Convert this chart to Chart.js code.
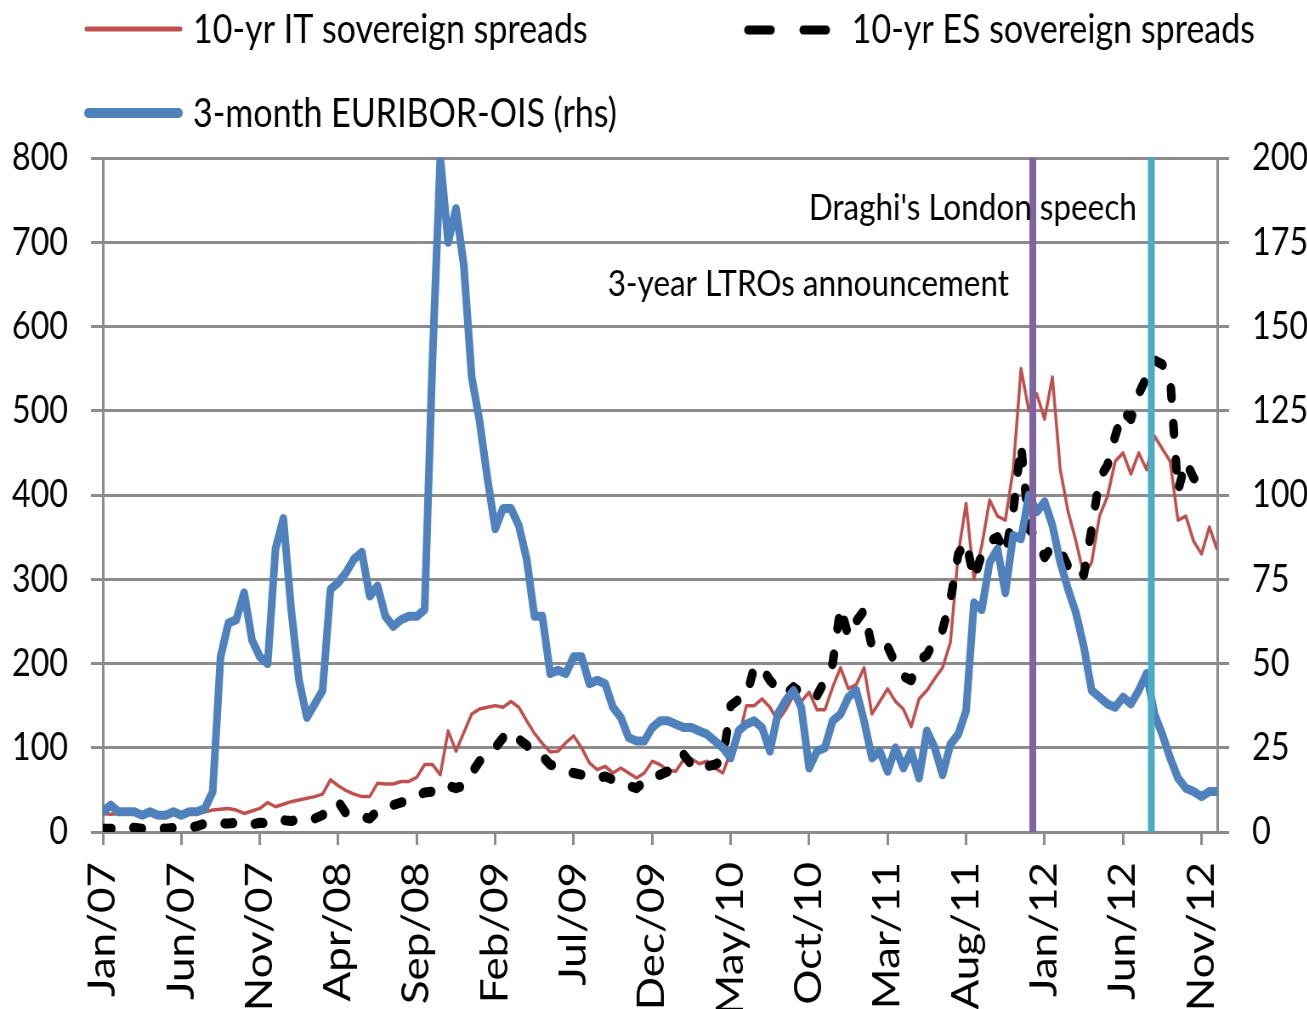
<!DOCTYPE html>
<html>
<head>
<meta charset="utf-8">
<title>Sovereign spreads and EURIBOR-OIS</title>
<script src="https://cdn.jsdelivr.net/npm/chart.js@4.4.1/dist/chart.umd.min.js"></script>
<style>
  html, body { margin: 0; padding: 0; background: #ffffff; overflow: hidden; }
  /* the chart is laid out on a wider canvas and compressed horizontally */
  #wrap { width: 1538px; height: 1009px; transform: scaleX(0.85); transform-origin: 0 0; }
  canvas { display: block; }
</style>
</head>
<body>
<div id="wrap"><canvas id="chart" width="1538" height="1009"></canvas></div>
<script>
// Observation dates: months since January 2007, twice a month
const obsMonth = [
  0, 0.5, 1, 1.5, 2, 2.5, 3, 3.5, 4, 4.5, 5, 5.5, 6, 6.5, 7, 7.5, 8, 8.5, 9, 9.5,
  10, 10.5, 11, 11.5, 12, 12.5, 13, 13.5, 14, 14.5, 15, 15.5, 16, 16.5, 17, 17.5, 18, 18.5, 19, 19.5,
  20, 20.5, 21, 21.5, 22, 22.5, 23, 23.5, 24, 24.5, 25, 25.5, 26, 26.5, 27, 27.5, 28, 28.5, 29, 29.5,
  30, 30.5, 31, 31.5, 32, 32.5, 33, 33.5, 34, 34.5, 35, 35.5, 36, 36.5, 37, 37.5, 38, 38.5, 39, 39.5,
  40, 40.5, 41, 41.5, 42, 42.5, 43, 43.5, 44, 44.5, 45, 45.5, 46, 46.5, 47, 47.5, 48, 48.5, 49, 49.5,
  50, 50.5, 51, 51.5, 52, 52.5, 53, 53.5, 54, 54.5, 55, 55.5, 56, 56.5, 57, 57.5, 58, 58.5, 59, 59.5,
  60, 60.5, 61, 61.5, 62, 62.5, 63, 63.5, 64, 64.5, 65, 65.5, 66, 66.5, 67, 67.5, 68, 68.5, 69, 69.5,
  70, 70.5, 71
];

// 10-yr Italian sovereign spread (bp, left axis)
const itSpread = [
  22, 21, 22, 21, 22, 20, 21, 20, 21, 22, 21, 22, 22, 24, 26, 27, 28, 26, 22, 25,
  28, 35, 30, 33, 36, 38, 40, 42, 45, 62, 55, 49, 45, 42, 42, 58, 57, 57, 60, 60,
  65, 80, 80, 68, 120, 96, 118, 140, 146, 148, 150, 148, 155, 148, 132, 117, 105, 95, 96, 106,
  114, 100, 82, 74, 78, 70, 76, 70, 64, 70, 84, 80, 73, 72, 86, 87, 81, 84, 76, 70,
  95, 110, 150, 150, 158, 148, 132, 145, 162, 155, 166, 145, 145, 172, 195, 170, 175, 195, 140, 155,
  170, 155, 146, 125, 158, 168, 182, 195, 225, 330, 390, 300, 340, 394, 375, 370, 430, 550, 500, 520,
  490, 540, 430, 380, 345, 305, 320, 375, 398, 440, 450, 425, 450, 430, 470, 455, 440, 370, 375, 345,
  330, 362, 335
];

// 10-yr Spanish sovereign spread (bp, left axis)
const esSpread = [
  4, 4, 4, 5, 5, 4, 4, 5, 4, 5, 5, 5, 7, 10, 11, 10, 10, 11, 8, 9,
  11, 10, 14, 14, 13, 15, 17, 16, 20, 30, 36, 22, 20, 18, 16, 25, 30, 32, 35, 38,
  42, 47, 48, 55, 55, 52, 55, 70, 84, 90, 100, 112, 120, 110, 103, 92, 90, 80, 77, 72,
  70, 68, 66, 64, 66, 62, 58, 55, 52, 60, 66, 68, 72, 82, 92, 80, 74, 78, 80, 85,
  150, 157, 160, 196, 195, 180, 170, 163, 172, 165, 160, 162, 180, 200, 267, 232, 250, 263, 220, 215,
  220, 200, 185, 180, 204, 210, 228, 240, 275, 330, 345, 300, 330, 345, 350, 330, 380, 460, 360, 350,
  326, 340, 335, 315, 320, 305, 360, 420, 435, 470, 500, 490, 520, 540, 560, 555, 540, 405, 440, 420,
  415, 430, null
];

// 3-month EURIBOR-OIS spread (bp, right axis)
const euriborOis = [
  6, 8, 6, 6, 6, 5, 6, 5, 5, 6, 5, 6, 6, 7, 12, 52, 62, 63, 71, 57,
  52, 50, 84, 93, 66, 45, 34, 38, 42, 72, 74, 77, 81, 83, 70, 73, 64, 61, 63, 64,
  64, 66, 140, 200, 175, 185, 168, 135, 122, 105, 90, 96, 96, 91, 81, 64, 64, 47, 48, 47,
  52, 52, 44, 45, 44, 37, 34, 28, 27, 27, 31, 33, 33, 32, 31, 31, 30, 29, 27, 25,
  22, 30, 32, 33, 31, 24, 35, 39, 42, 37, 19, 24, 25, 33, 35, 40, 42, 33, 22, 24,
  18, 25, 19, 24, 16, 30, 25, 17, 26, 29, 36, 68, 66, 80, 84, 71, 88, 87, 100, 95,
  98, 91, 80, 72, 65, 55, 42, 40, 38, 37, 40, 38, 42, 47, 35, 29, 22, 16, 13, 12,
  10.5, 12, 12
];

// Event dates (months since January 2007)
const ltroMonth = 59.25;   // 8 Dec 2011
const draghiMonth = 66.8;  // 26 Jul 2012

// Category axis ticks
const tickMonths = [0, 5, 10, 15, 20, 25, 30, 35, 40, 45, 50, 55, 60, 65, 70];
const tickLabels = ['Jan/07', 'Jun/07', 'Nov/07', 'Apr/08', 'Sep/08', 'Feb/09', 'Jul/09', 'Dec/09',
                    'May/10', 'Oct/10', 'Mar/11', 'Aug/11', 'Jan/12', 'Jun/12', 'Nov/12'];

const leftTicks = [0, 100, 200, 300, 400, 500, 600, 700, 800];
const rightTicks = [0, 25, 50, 75, 100, 125, 150, 175, 200];

const RED = '#C0504D';
const BLUE = '#4F81BD';
const PURPLE = '#8064A2';
const CYAN = '#4BACC6';
const GRID = '#8C8C8C';
const FONT = 'Lato, "Open Sans", sans-serif';

const toPoints = (vals) => obsMonth.map((m, i) => ({ x: m, y: vals[i] }));
const eventLine = (m) => [{ x: m, y: 0 }, { x: m, y: 800 }];

// Legend rows and event captions
const captions = {
  id: 'captions',
  afterDraw(chart) {
    const c = chart.ctx;
    const xs = chart.scales.x;
    const area = chart.chartArea;
    c.save();
    c.fillStyle = '#000';
    c.font = '40px ' + FONT;
    c.textBaseline = 'alphabetic';
    c.textAlign = 'left';

    // legend: IT
    c.lineCap = 'round';
    c.strokeStyle = RED; c.lineWidth = 5;
    c.beginPath(); c.moveTo(102, 29); c.lineTo(212, 29); c.stroke();
    c.fillText('10-yr IT sovereign spreads', 227, 43);

    // legend: ES
    c.strokeStyle = '#000'; c.lineWidth = 9;
    c.setLineDash([27, 38]);
    c.beginPath(); c.moveTo(880, 30); c.lineTo(973, 30); c.stroke();
    c.setLineDash([]);
    c.fillText('10-yr ES sovereign spreads', 1002, 43);

    // legend: EURIBOR-OIS
    c.strokeStyle = BLUE; c.lineWidth = 10;
    c.beginPath(); c.moveTo(104, 113); c.lineTo(210, 113); c.stroke();
    c.fillText('3-month EURIBOR-OIS (rhs)', 227, 127);

    // event captions, right-aligned next to their lines
    c.font = '37px ' + FONT;
    c.textAlign = 'right';
    c.fillText("Draghi's London speech", xs.getPixelForValue(draghiMonth) - 17, area.top + 62);
    c.fillText('3-year LTROs announcement', xs.getPixelForValue(ltroMonth) - 28, area.top + 138);
    c.restore();
  }
};

new Chart(document.getElementById('chart'), {
  type: 'line',
  data: {
    datasets: [
      { label: 'LTRO', data: eventLine(ltroMonth), borderColor: PURPLE, borderWidth: 8,
        pointRadius: 0, yAxisID: 'y', order: 1 },
      { label: 'Draghi', data: eventLine(draghiMonth), borderColor: CYAN, borderWidth: 8,
        pointRadius: 0, yAxisID: 'y', order: 1 },
      { label: '3-month EURIBOR-OIS (rhs)', data: toPoints(euriborOis), borderColor: BLUE,
        borderWidth: 9, pointRadius: 0, tension: 0, yAxisID: 'y2', order: 2,
        borderJoinStyle: 'round', borderCapStyle: 'round' },
      { label: '10-yr ES sovereign spreads', data: toPoints(esSpread), borderColor: '#000',
        borderWidth: 10, pointRadius: 0, tension: 0, yAxisID: 'y', order: 3,
        borderDash: [10, 26], borderCapStyle: 'round', borderJoinStyle: 'round', spanGaps: false },
      { label: '10-yr IT sovereign spreads', data: toPoints(itSpread), borderColor: RED,
        borderWidth: 3.5, pointRadius: 0, tension: 0, yAxisID: 'y', order: 4,
        borderJoinStyle: 'round' }
    ]
  },
  options: {
    responsive: false,
    animation: false,
    devicePixelRatio: 1,
    layout: { padding: { top: 158, left: 0, right: 0, bottom: 0 } },
    plugins: { legend: { display: false }, tooltip: { enabled: false } },
    scales: {
      x: {
        type: 'linear', position: 'bottom', min: 0, max: 71,
        afterBuildTicks: (s) => { s.ticks = tickMonths.map((v) => ({ value: v })); },
        afterFit: (s) => { s.height = 177; },
        grid: { drawOnChartArea: false, drawTicks: true, tickLength: 13, color: GRID, lineWidth: 3 },
        border: { display: true, color: GRID, width: 3 },
        ticks: {
          autoSkip: false, minRotation: 90, maxRotation: 90, padding: 17, color: '#000',
          font: { family: FONT, size: 44 },
          callback: (v) => tickLabels[tickMonths.indexOf(v)]
        }
      },
      y: {
        position: 'left', min: 0, max: 800,
        afterBuildTicks: (s) => { s.ticks = leftTicks.map((v) => ({ value: v })); },
        afterFit: (s) => { s.width = 121; },
        grid: { color: GRID, lineWidth: 3, drawTicks: true, tickLength: 14 },
        border: { display: true, color: GRID, width: 3 },
        ticks: { padding: 27, color: '#000', font: { family: FONT, size: 38 } }
      },
      y2: {
        position: 'right', min: 0, max: 200,
        afterBuildTicks: (s) => { s.ticks = rightTicks.map((v) => ({ value: v })); },
        afterFit: (s) => { s.width = 106; },
        grid: { drawOnChartArea: false, color: GRID, lineWidth: 3, drawTicks: true, tickLength: 14 },
        border: { display: true, color: GRID, width: 3 },
        ticks: { padding: 27, color: '#000', font: { family: FONT, size: 38 } }
      }
    }
  },
  plugins: [captions]
});
</script>
</body>
</html>
